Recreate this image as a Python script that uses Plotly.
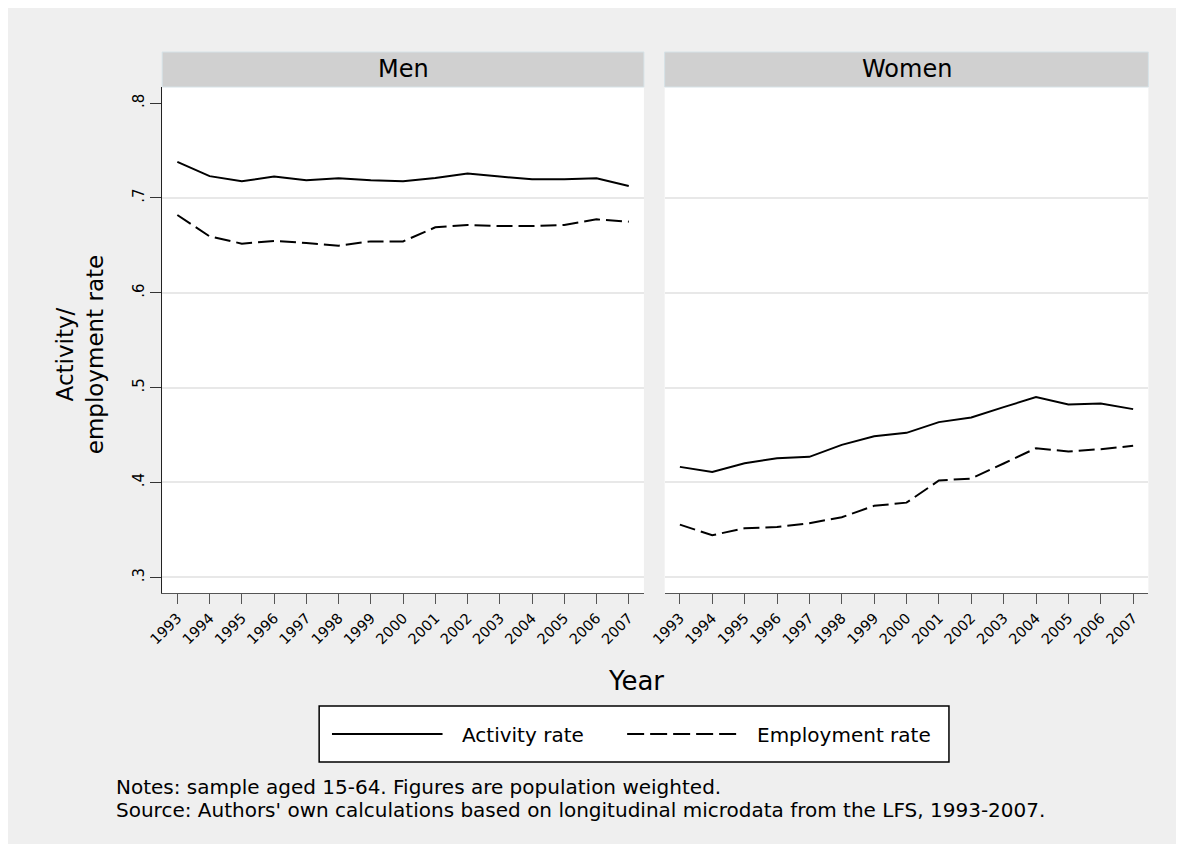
import plotly.graph_objects as go

years = list(range(1993, 2008))
panels = ["Men", "Women"]
men_activity = [0.738, 0.723, 0.7175, 0.7225, 0.7186, 0.7207, 0.7186, 0.7175, 0.7211,
                0.7257, 0.7225, 0.7196, 0.7196, 0.7207, 0.7127]
men_employment = [0.682, 0.6595, 0.6518, 0.6546, 0.6525, 0.6497, 0.6542, 0.6542, 0.669,
                  0.6715, 0.6704, 0.6704, 0.6715, 0.6774, 0.675]
women_activity = [0.4164, 0.4111, 0.4203, 0.4256, 0.427, 0.4396, 0.4488, 0.4523, 0.4636,
                  0.4684, 0.4794, 0.49, 0.4822, 0.4832, 0.4773]
women_employment = [0.3555, 0.3443, 0.3517, 0.3531, 0.357, 0.3633, 0.3753, 0.3787, 0.402,
                    0.4041, 0.42, 0.4361, 0.4326, 0.4351, 0.4386]
series_names = ["Activity rate", "Employment rate"]
y_ticks = [0.3, 0.4, 0.5, 0.6, 0.7, 0.8]
y_ticktext = [".3", ".4", ".5", ".6", ".7", ".8"]
y_grid = [0.3, 0.4, 0.5, 0.6, 0.7]
y_title = "Activity/<br>employment rate"
x_title = "Year"
notes = ["Notes: sample aged 15-64. Figures are population weighted.",
         "Source: Authors' own calculations based on longitudinal microdata from the LFS, 1993-2007."]

# the page body has an 8px margin; figure fills the rest of the window
OFF = 8
W, H = 1168, 836
def px(x):
    return (x - OFF) / W
def py(y):
    return 1 - (y - OFF) / H

FONT = "DejaVu Sans, Verdana, sans-serif"
fig = go.Figure()

data = [(men_activity, men_employment, "x", "y"), (women_activity, women_employment, "x2", "y2")]
for act, emp, xa, ya in data:
    fig.add_trace(go.Scatter(x=years, y=act, mode="lines", name=series_names[0],
                             line=dict(color="black", width=2), xaxis=xa, yaxis=ya, showlegend=False))
    fig.add_trace(go.Scatter(x=years, y=emp, mode="lines", name=series_names[1],
                             line=dict(color="black", width=2, dash="16px,6px"), xaxis=xa, yaxis=ya,
                             showlegend=False))

doms = [(149, 637), (658, 1148)]
yr = [0.2834, 0.817]
xr = [1992.53, 2007.47]
common_x = dict(range=xr, tickvals=years, ticktext=[str(y) for y in years], tickangle=-45,
                ticks="outside", ticklen=10, tickcolor="#555", showline=True, linecolor="#555",
                linewidth=1, showgrid=False, zeroline=False,
                tickfont=dict(family=FONT, size=14.5, color="black"), fixedrange=True)
common_y = dict(range=yr, tickvals=y_ticks, showgrid=False, zeroline=False, fixedrange=True,
                minor=dict(tickvals=y_grid, showgrid=True, gridcolor="#e8e8e8", gridwidth=1.5,
                           ticks=""))

fig.update_layout(
    xaxis=dict(domain=[px(doms[0][0]), px(doms[0][1])], anchor="y", **common_x),
    xaxis2=dict(domain=[px(doms[1][0]), px(doms[1][1])], anchor="y2", **common_x),
    yaxis=dict(domain=[py(593), py(87)], anchor="x", ticktext=y_ticktext, tickangle=-90,
               ticks="outside", ticklen=11, tickcolor="#333", showline=True, linecolor="#222",
               linewidth=1, tickfont=dict(family=FONT, size=15, color="black"), **common_y),
    yaxis2=dict(domain=[py(593), py(87)], anchor="x2", showticklabels=False, ticks="",
                showline=False, **common_y),
)

shapes = []
annotations = []
# header strips
for (x0, x1), name in zip(doms, panels):
    shapes.append(dict(type="rect", xref="paper", yref="paper", x0=px(x0), x1=px(x1),
                       y0=py(87), y1=py(52), fillcolor="#d0d0d0",
                       line=dict(color="#d6e2e7", width=1), layer="above"))
    annotations.append(dict(xref="paper", yref="paper", x=px((x0 + x1) / 2), y=py(68.5),
                            text=name, showarrow=False, xanchor="center", yanchor="middle",
                            font=dict(family=FONT, size=24, color="black")))

# legend box (drawn)
shapes.append(dict(type="rect", xref="paper", yref="paper", x0=px(308), x1=px(946),
                   y0=py(762), y1=py(706), fillcolor="white", line=dict(color="black", width=1.5)))
shapes.append(dict(type="line", xref="paper", yref="paper", x0=px(321), x1=px(433),
                   y0=py(734), y1=py(734), line=dict(color="black", width=2)))
shapes.append(dict(type="line", xref="paper", yref="paper", x0=px(620), x1=px(732),
                   y0=py(734), y1=py(734), line=dict(color="black", width=2, dash="17px,6px")))
annotations.append(dict(xref="paper", yref="paper", x=px(451), y=py(735), text=series_names[0],
                        showarrow=False, xanchor="left", yanchor="middle",
                        font=dict(family=FONT, size=20, color="black")))
annotations.append(dict(xref="paper", yref="paper", x=px(750), y=py(735), text=series_names[1],
                        showarrow=False, xanchor="left", yanchor="middle",
                        font=dict(family=FONT, size=20, color="black")))

# axis titles
annotations.append(dict(xref="paper", yref="paper", x=px(629), y=py(681), text=x_title,
                        showarrow=False, xanchor="center", yanchor="middle",
                        font=dict(family=FONT, size=26, color="black")))
annotations.append(dict(xref="paper", yref="paper", x=px(66), y=py(355), text=y_title,
                        showarrow=False, xanchor="center", yanchor="middle", textangle=-90,
                        font=dict(family=FONT, size=23, color="black")))
# notes
for i, t in enumerate(notes):
    annotations.append(dict(xref="paper", yref="paper", x=px(100), y=py(786.5 + 23.5 * i), text=t,
                            showarrow=False, xanchor="left", yanchor="middle",
                            font=dict(family=FONT, size=20, color="black")))

fig.update_layout(width=W, height=H, margin=dict(l=0, r=0, t=0, b=0),
                  paper_bgcolor="#efefef", plot_bgcolor="white",
                  shapes=shapes, annotations=annotations, showlegend=False)

fig.write_html("out.html")
